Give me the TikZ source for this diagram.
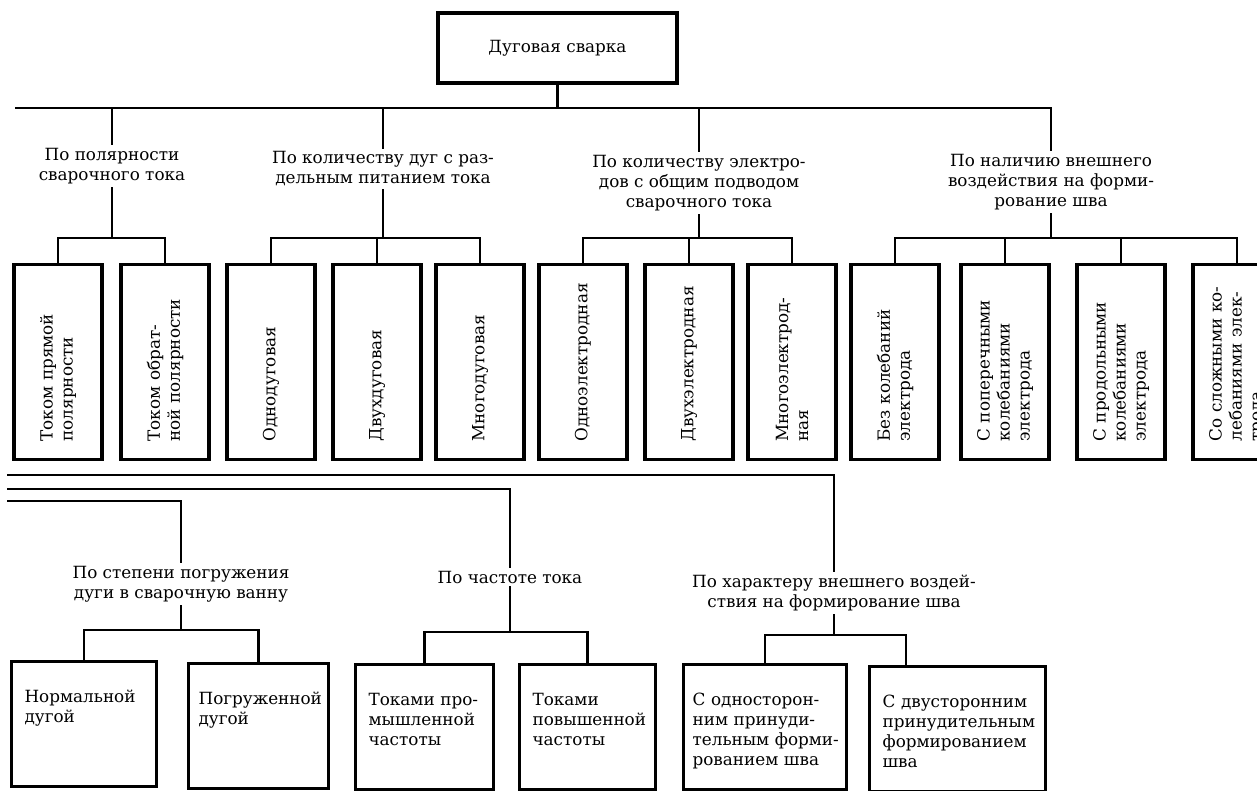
\documentclass[tikz,border=0pt]{standalone}
\usepackage{fontspec}
\setmainfont{DejaVu Serif}

\tikzset{
    every node/.style={font=\fontsize{16.8}{20}\selectfont},
    rootbox/.style={draw, line width=3.2pt, minimum width=239pt, minimum height=70pt},
    vbox/.style={draw, line width=3.2pt, rotate=90, minimum height=88pt, text width=159pt, inner xsep=18pt, align=left},
    hbox/.style={draw, line width=3.2pt, anchor=north west, inner xsep=13pt, inner ysep=0pt, text height=41pt, text depth=84pt, align=left},
    group/.style={align=center, inner sep=3pt},
    link/.style={line width=2.6pt},
}

\begin{document}
\begin{tikzpicture}[x=1pt, y=-1pt]
        \useasboundingbox (0,0) rectangle (1257,790);
        \clip (0,0) rectangle (1257,790);

        \node[rootbox] (root) at (557.5,48) {Дуговая сварка};

        \node[group] (l1) at (112,166) {По полярности\\сварочного тока};
        \node[group] (l2) at (383,169) {По количеству дуг с раз-\\дельным питанием тока};
        \node[group] (l3) at (699,183) {По количеству электро-\\дов с общим подводом\\сварочного тока};
        \node[group] (l4) at (1051,182) {По наличию внешнего\\воздействия на форми-\\рование шва};

        \node[vbox] (b1) at (58,362) {\mbox{Током прямой}\\полярности};
        \node[vbox] (b2) at (165,362) {\mbox{Током обрат-}\\\mbox{ной полярности}};
        \node[vbox] (b3) at (271,362) {Однодуговая};
        \node[vbox] (b4) at (377,362) {Двухдуговая};
        \node[vbox] (b5) at (480,362) {Многодуговая};
        \node[vbox] (b6) at (583,362) {Одноэлектродная};
        \node[vbox] (b7) at (689,362) {Двухэлектродная};
        \node[vbox] (b8) at (792,362) {\mbox{Многоэлектрод-}\\ная};
        \node[vbox] (b9) at (895,362) {\mbox{Без колебаний}\\электрода};
        \node[vbox] (b10) at (1005,362) {\mbox{С поперечными}\\колебаниями\\электрода};
        \node[vbox] (b11) at (1121,362) {\mbox{С продольными}\\колебаниями\\электрода};
        \node[vbox] (b12) at (1237,362) {\mbox{Со сложными ко-}\\\mbox{лебаниями элек-}\\трода};

        \coordinate (bus) at (15,108);
        \draw[link] (root.south) -- (root.south |- bus);
        \draw[link] (bus) -| (l4.north);
        \foreach \l in {l1,l2,l3} {
            \draw[link] (\l.north |- bus) -- (\l.north);
        }

        \coordinate (g) at (0,238);
        \foreach \l in {l1,l2,l3,l4} {
            \draw[link] (\l.south) -- (\l.south |- g);
        }
        \draw[link] (b1.east) |- (b2.east |- g) -- (b2.east);
        \draw[link] (b3.east) |- (b5.east |- g) -- (b5.east);
        \draw[link] (b6.east) |- (b8.east |- g) -- (b8.east);
        \draw[link] (b9.east) |- (b12.east |- g) -- (b12.east);
        \foreach \b in {b4,b7,b10,b11} {
            \draw[link] (\b.east |- g) -- (\b.east);
        }

        \node[group] (l5) at (181,584) {По степени погружения\\дуги в сварочную ванну};
        \node[group] (l6) at (510,577) {По частоте тока};
        \node[group] (l7) at (834,593) {По характеру внешнего воздей-\\ствия на формирование шва};

        \coordinate (la) at (7,475);
        \coordinate (lb) at (7,489);
        \coordinate (lc) at (7,501);
        \draw[link] (la) -| (l7.north);
        \draw[link] (lb) -| (l6.north);
        \draw[link] (lc) -| (l5.north);

        \node[hbox, text width=119pt] (n1) at (10,660) {Нормальной\\дугой};
        \node[hbox, text width=120pt, inner xsep=10pt] (n2) at (187,662) {Погруженной\\дугой};
        \node[hbox, text width=112pt] (n3) at (354,663) {\mbox{Токами про-}\\мышленной\\частоты};
        \node[hbox, text width=110pt] (n4) at (518,663) {Токами\\повышенной\\частоты};
        \node[hbox, text width=145pt, inner xsep=9pt] (n5) at (682,663) {\mbox{С односторон-}\\\mbox{ним принуди-}\\\mbox{тельным форми-}\\\mbox{рованием шва}};
        \node[hbox, text width=150pt] (n6) at (868,665) {\mbox{С двусторонним}\\принудительным\\формированием\\шва};

        \coordinate (g5) at (0,630);
        \coordinate (g6) at (0,632);
        \coordinate (g7) at (0,635);
        \coordinate (n6in) at ([xshift=38pt]n6.north west);
        \draw[link] (l5.south) -- (l5.south |- g5);
        \draw[link] (l6.south) -- (l6.south |- g6);
        \draw[link] (l7.south) -- (l7.south |- g7);
        \draw[link] (n1.north) |- (n2.north |- g5) -- (n2.north);
        \draw[link] (n3.north) |- (n4.north |- g6) -- (n4.north);
        \draw[link] (n5.north) |- (n6in |- g7) -- (n6in);
    \end{tikzpicture}
\end{document}
